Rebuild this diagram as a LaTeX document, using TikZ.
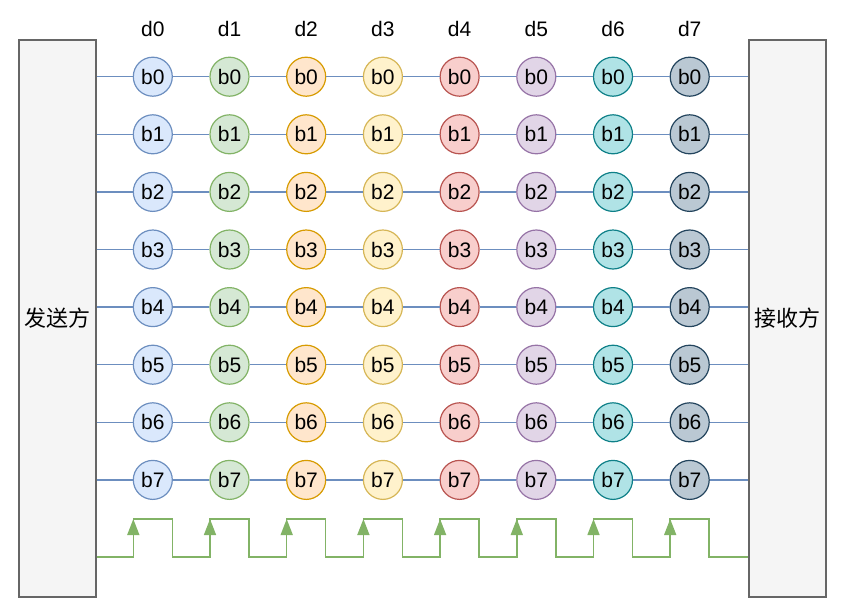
\documentclass[tikz,border=0pt]{standalone}
\usepackage{fontspec}
\setmainfont{Liberation Sans}
\newfontfamily\cjk{Noto Sans CJK SC}
\usetikzlibrary{arrows.meta}
\definecolor{boxfill}{HTML}{F5F5F5}
\definecolor{boxdraw}{HTML}{666666}
\definecolor{wire}{HTML}{6C8EBF}
\definecolor{clkc}{HTML}{82B366}
\definecolor{f0}{HTML}{DAE8FC}\definecolor{s0}{HTML}{6C8EBF}
\definecolor{f1}{HTML}{D5E8D4}\definecolor{s1}{HTML}{82B366}
\definecolor{f2}{HTML}{FFE6CC}\definecolor{s2}{HTML}{D79B00}
\definecolor{f3}{HTML}{FFF2CC}\definecolor{s3}{HTML}{D6B656}
\definecolor{f4}{HTML}{F8CECC}\definecolor{s4}{HTML}{B85450}
\definecolor{f5}{HTML}{E1D5E7}\definecolor{s5}{HTML}{9673A6}
\definecolor{f6}{HTML}{B0E3E6}\definecolor{s6}{HTML}{0E8088}
\definecolor{f7}{HTML}{BAC8D3}\definecolor{s7}{HTML}{23445D}
\begin{document}
\begin{tikzpicture}[x=1pt,y=-1pt,
  endbox/.style={draw=boxdraw,fill=boxfill,line width=1.5pt,minimum width=77pt,minimum height=557pt,inner sep=0pt,anchor=north west},
  boxtext/.style={font=\cjk\fontsize{22}{26}\selectfont,inner sep=0pt},
  bit/.style={circle,line width=1.2pt,minimum size=39pt,inner sep=0pt,font=\fontsize{21}{25}\selectfont},
  lab/.style={font=\fontsize{21}{25}\selectfont,inner sep=0pt},
  wireline/.style={draw=wire,line width=1.4pt},
  clk/.style={draw=clkc,line width=1.5pt,line join=miter},
  clkarrow/.style={clk,-{Triangle[length=16pt,width=12pt]}}]
\useasboundingbox (0,0) rectangle (853,608);
\node[endbox] (lbox) at (18,39) {};
\node[boxtext] (ltext) at (lbox.center) {发送方};
\node[endbox] (rbox) at (748,39) {};
\node[boxtext] (rtext) at (rbox.center) {接收方};
\foreach \i in {0,...,7} {
  \pgfmathsetmacro\cx{152.8+76.7*\i}
  \node[lab] (d\i) at (\cx,29) {d\i};
  \foreach \j in {0,...,7} {
    \pgfmathsetmacro\cy{76.7+57.6*\j}
    \node[bit,draw=s\i,fill=f\i] (c-\i-\j) at (\cx,\cy) {b\j};
  }
  \coordinate (rl\i) at (\cx-19.5,557);
  \coordinate (rh\i) at (\cx-19.5,519);
  \coordinate (fh\i) at (\cx+19.5,519);
  \coordinate (fl\i) at (\cx+19.5,557);
}
\foreach \j in {0,...,7} {
  \draw[wireline] (lbox.east |- c-0-\j) -- (c-0-\j);
  \foreach \i [evaluate=\i as \n using int(\i+1)] in {0,...,6}
    \draw[wireline] (c-\i-\j) -- (c-\n-\j);
  \draw[wireline] (c-7-\j) -- (rbox.west |- c-7-\j);
}
\draw[clk] (lbox.east |- rl0) foreach \i in {0,...,7} { -- (rl\i) -- (rh\i) -- (fh\i) -- (fl\i) } -- (rbox.west |- fl7);
\foreach \i in {0,...,7}
  \draw[clkarrow] (rl\i) -- (rh\i);
\end{tikzpicture}
\end{document}
